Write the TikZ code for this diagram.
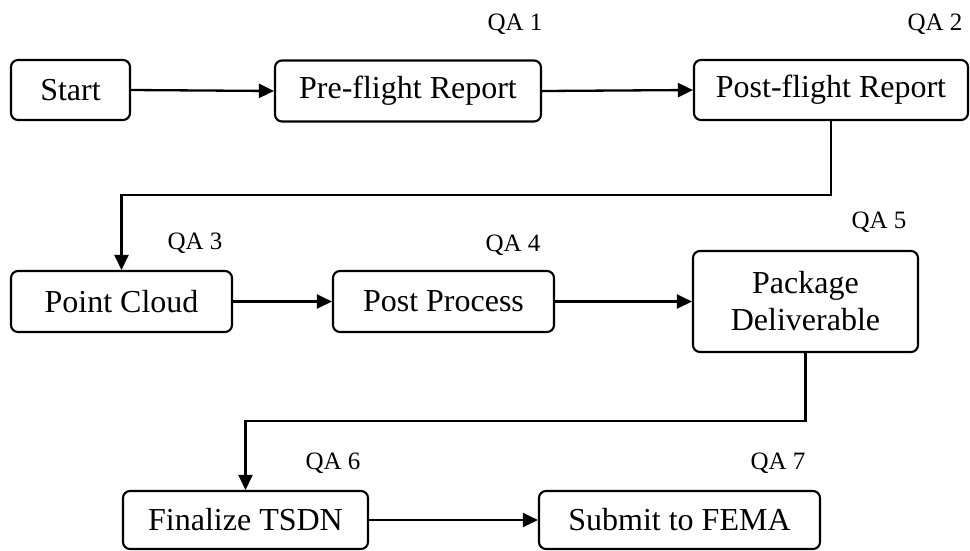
\documentclass[tikz,border=0pt]{standalone}
\usepackage{fontspec}
\setmainfont{Liberation Serif}
\usetikzlibrary{arrows.meta}
\tikzset{
  box/.style={draw, line width=2.1pt, rounded corners=7pt, align=center, inner sep=0pt,
    font=\fontsize{32}{37}\selectfont},
  qa/.style={font=\fontsize{25}{28}\selectfont, inner sep=0pt},
  arr/.style={line width=2.3pt, -{Triangle[length=15pt,width=14pt]}}
}
\begin{document}
\begin{tikzpicture}[x=1pt,y=-1pt]
\useasboundingbox (0,0) rectangle (970,550);
\node[box, minimum width=119pt, minimum height=60pt] (start) at (70.5,90) {Start};
\node[box, minimum width=266pt, minimum height=61pt] (pre) at (408,91) {Pre-flight Report};
\node[box, minimum width=274pt, minimum height=60pt] (post) at (831,90) {Post-flight Report};
\node[box, minimum width=221pt, minimum height=61pt] (pc) at (121.5,301.5) {Point Cloud};
\node[box, minimum width=221pt, minimum height=61pt] (pp) at (443.5,301.5) {Post Process};
\node[box, minimum width=225pt, minimum height=101pt] (pkg) at (805.5,301.5) {Package\\Deliverable};
\node[box, minimum width=245pt, minimum height=58pt] (fin) at (245.5,520) {Finalize TSDN};
\node[box, minimum width=281pt, minimum height=58pt] (sub) at (679.5,520) {Submit to FEMA};

\node[qa] (qa1) at (515,24) {QA 1};
\node[qa] (qa2) at (935,24) {QA 2};
\node[qa] (qa3) at (195,243) {QA 3};
\node[qa] (qa4) at (513,245) {QA 4};
\node[qa] (qa5) at (879,222) {QA 5};
\node[qa] (qa6) at (333,463) {QA 6};
\node[qa] (qa7) at (778,463) {QA 7};

\coordinate (b1) at (831,195);
\coordinate (b2) at (805.5,421);
\draw[arr] (start.east) -- (pre.west);
\draw[arr] (pre.east) -- (post.west);
\draw[arr] (post.south) -- (b1) -| (pc.north);
\draw[arr] (pc.east) -- (pp.west);
\draw[arr] (pp.east) -- (pkg.west);
\draw[arr] (pkg.south) -- (b2) -| (fin.north);
\draw[arr] (fin.east) -- (sub.west);
\end{tikzpicture}
\end{document}
